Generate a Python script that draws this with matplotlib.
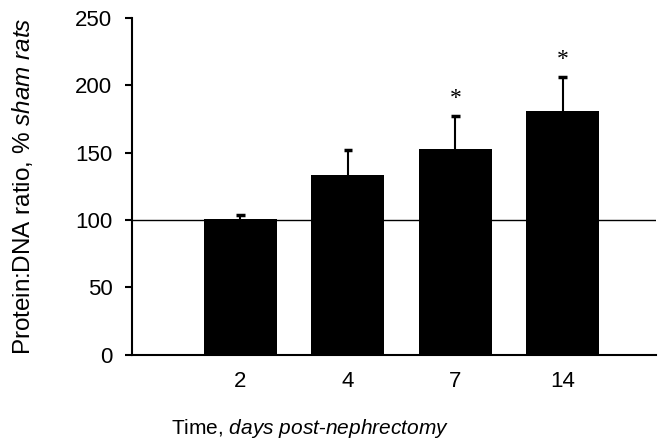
import matplotlib
matplotlib.use('Agg')
import matplotlib.pyplot as plt
from matplotlib import font_manager
import numpy as np

# Data
days = ['2', '4', '7', '14']
ratio = [101, 133, 153, 181]
err = [3, 19, 24, 25]
signif = [False, False, True, True]

plt.rcParams['font.family'] = 'Liberation Sans'
plt.rcParams['mathtext.fontset'] = 'custom'

# the x label in the original is set in a narrower face
names = {f.name for f in font_manager.fontManager.ttflist}
if 'Liberation Sans Narrow' in names:
    xfont, xsize = 'Liberation Sans Narrow', 16.5
else:
    xfont, xsize = 'Liberation Sans', 15

fig = plt.figure(figsize=(6.63, 4.45), dpi=100)
ax = fig.add_axes([0.199, 0.203, 0.790, 0.757])

x = np.arange(len(days))
top = np.array(ratio) + np.array(err)

# upward-only error bars, drawn below the bars
ax.vlines(x, ratio, top, color='black', lw=1.5, zorder=2)
ax.hlines(top, x - 0.04, x + 0.04, color='black', lw=2.5, zorder=2)
ax.bar(x, ratio, width=0.68, color='black', zorder=3)

# reference line at 100% of sham
ax.axhline(100, color='black', lw=1.0, zorder=1)

for xi, t, s in zip(x, top, signif):
    if s:
        ax.text(xi, t + 13, '*', ha='center', va='center',
                fontsize=17, family='Liberation Serif')

ax.set_xlim(-1.01, 3.865)
ax.set_ylim(0, 250)
ax.set_yticks([0, 50, 100, 150, 200, 250])
ax.set_xticks(x)
ax.set_xticklabels(days)

for side in ['top', 'right']:
    ax.spines[side].set_visible(False)
for side in ['left', 'bottom']:
    ax.spines[side].set_linewidth(1.5)

ax.tick_params(axis='y', direction='out', length=5, width=1.5, pad=9, labelsize=16)
ax.tick_params(axis='x', length=0, pad=12, labelsize=16)

plt.rcParams['mathtext.rm'] = 'Liberation Sans'
plt.rcParams['mathtext.it'] = 'Liberation Sans:italic'
ax.set_ylabel(r'Protein:DNA ratio, $\mathit{\%\ sham\ rats}$', fontsize=17.5)
ax.yaxis.set_label_coords(-0.185, 0.5)

plt.rcParams['mathtext.rm'] = xfont
plt.rcParams['mathtext.it'] = xfont + ':italic'
ax.set_xlabel(r'Time, $\mathit{days\ post\text{-}nephrectomy}$', fontsize=xsize, family=xfont)
ax.xaxis.set_label_coords(0.34, -0.185)

fig.savefig('out.png', dpi=100)
